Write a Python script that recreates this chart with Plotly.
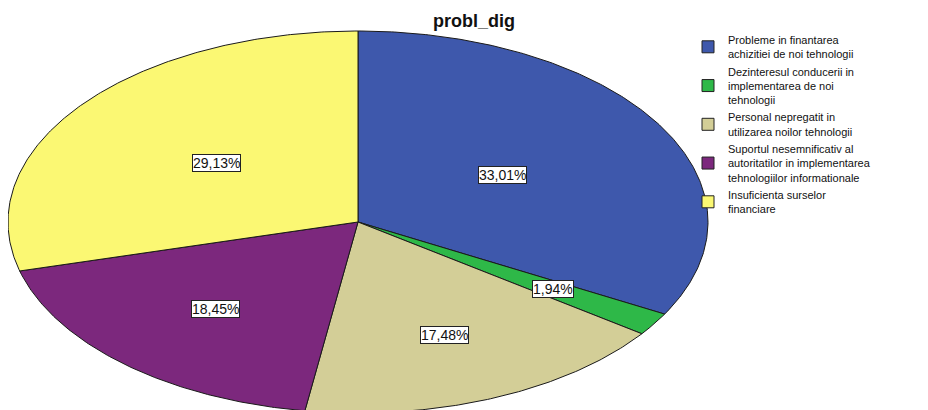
import numpy as np
import plotly.graph_objects as go

# ---- data ----
categories = [
    "Probleme in finantarea<br>achizitiei de noi tehnologii",
    "Dezinteresul conducerii in<br>implementarea de noi<br>tehnologii",
    "Personal nepregatit in<br>utilizarea noilor tehnologii",
    "Suportul nesemnificativ al<br>autoritatilor in implementarea<br>tehnologiilor informationale",
    "Insuficienta surselor<br>financiare",
]
values = [33.01, 1.94, 17.48, 18.45, 29.13]
value_labels = ["33,01%", "1,94%", "17,48%", "18,45%", "29,13%"]
title_text = "probl_dig"

# ---- style ----
colors = ["#3E58AC", "#2EB848", "#D3CE97", "#7C287D", "#FBF873"]
label_r = [0.48, 0.66, 0.64, 0.61, 0.51]   # label radial placement (fraction of radius)
W, H = 920, 402                            # page body has an 8px margin
CX, CY, RX, RY = 350, 214, 350, 191       # pie ellipse in figure pixels

fig = go.Figure()

total = sum(values)
cum = 0.0
for i, (cat, v) in enumerate(zip(categories, values)):
    a0 = 2 * np.pi * cum / total
    a1 = 2 * np.pi * (cum + v) / total
    n = max(int(np.degrees(a1 - a0) * 2), 4)
    th = np.linspace(a0, a1, n)
    xs = np.concatenate([[0], np.sin(th), [0]])
    ys = np.concatenate([[0], np.cos(th), [0]])
    fig.add_trace(go.Scatter(
        x=xs, y=ys, mode="lines", fill="toself",
        fillcolor=colors[i], line=dict(color="#1a1a1a", width=1),
        showlegend=False, hoverinfo="skip",
    ))
    am = (a0 + a1) / 2
    fig.add_annotation(
        x=label_r[i] * np.sin(am), y=label_r[i] * np.cos(am),
        text=value_labels[i], showarrow=False,
        font=dict(family="Liberation Sans, Arial", size=14, color="#111"),
        bgcolor="white", bordercolor="#222", borderwidth=1, borderpad=0,
    )
    cum += v

# legend entries
for cat, c in zip(categories, colors):
    fig.add_trace(go.Scatter(
        x=[None], y=[None], mode="markers", name=cat,
        marker=dict(symbol="square", size=12, color=c,
                    line=dict(color="#222", width=1)),
    ))

fig.update_layout(
    width=W, height=H,
    margin=dict(l=0, r=0, t=0, b=0),
    paper_bgcolor="white", plot_bgcolor="white",
    xaxis=dict(visible=False, range=[-CX / RX, (W - CX) / RX], domain=[0, 1]),
    yaxis=dict(visible=False, range=[-(H - CY) / RY, CY / RY], domain=[0, 1]),
    annotations=list(fig.layout.annotations) + [dict(
        text="<b>" + title_text + "</b>", xref="paper", yref="paper",
        x=466 / W, xanchor="center", y=1 - 1 / H, yanchor="top",
        showarrow=False,
        font=dict(family="Liberation Sans, Arial", size=18, color="#111"))],
    legend=dict(x=680 / W, xanchor="left", y=1 - 18 / H, yanchor="top",
                font=dict(family="Liberation Sans, Arial", size=11, color="#111"),
                bgcolor="rgba(0,0,0,0)", tracegroupgap=0, itemclick=False,
                traceorder="normal"),
    showlegend=True,
)

fig.write_html("out.html")
